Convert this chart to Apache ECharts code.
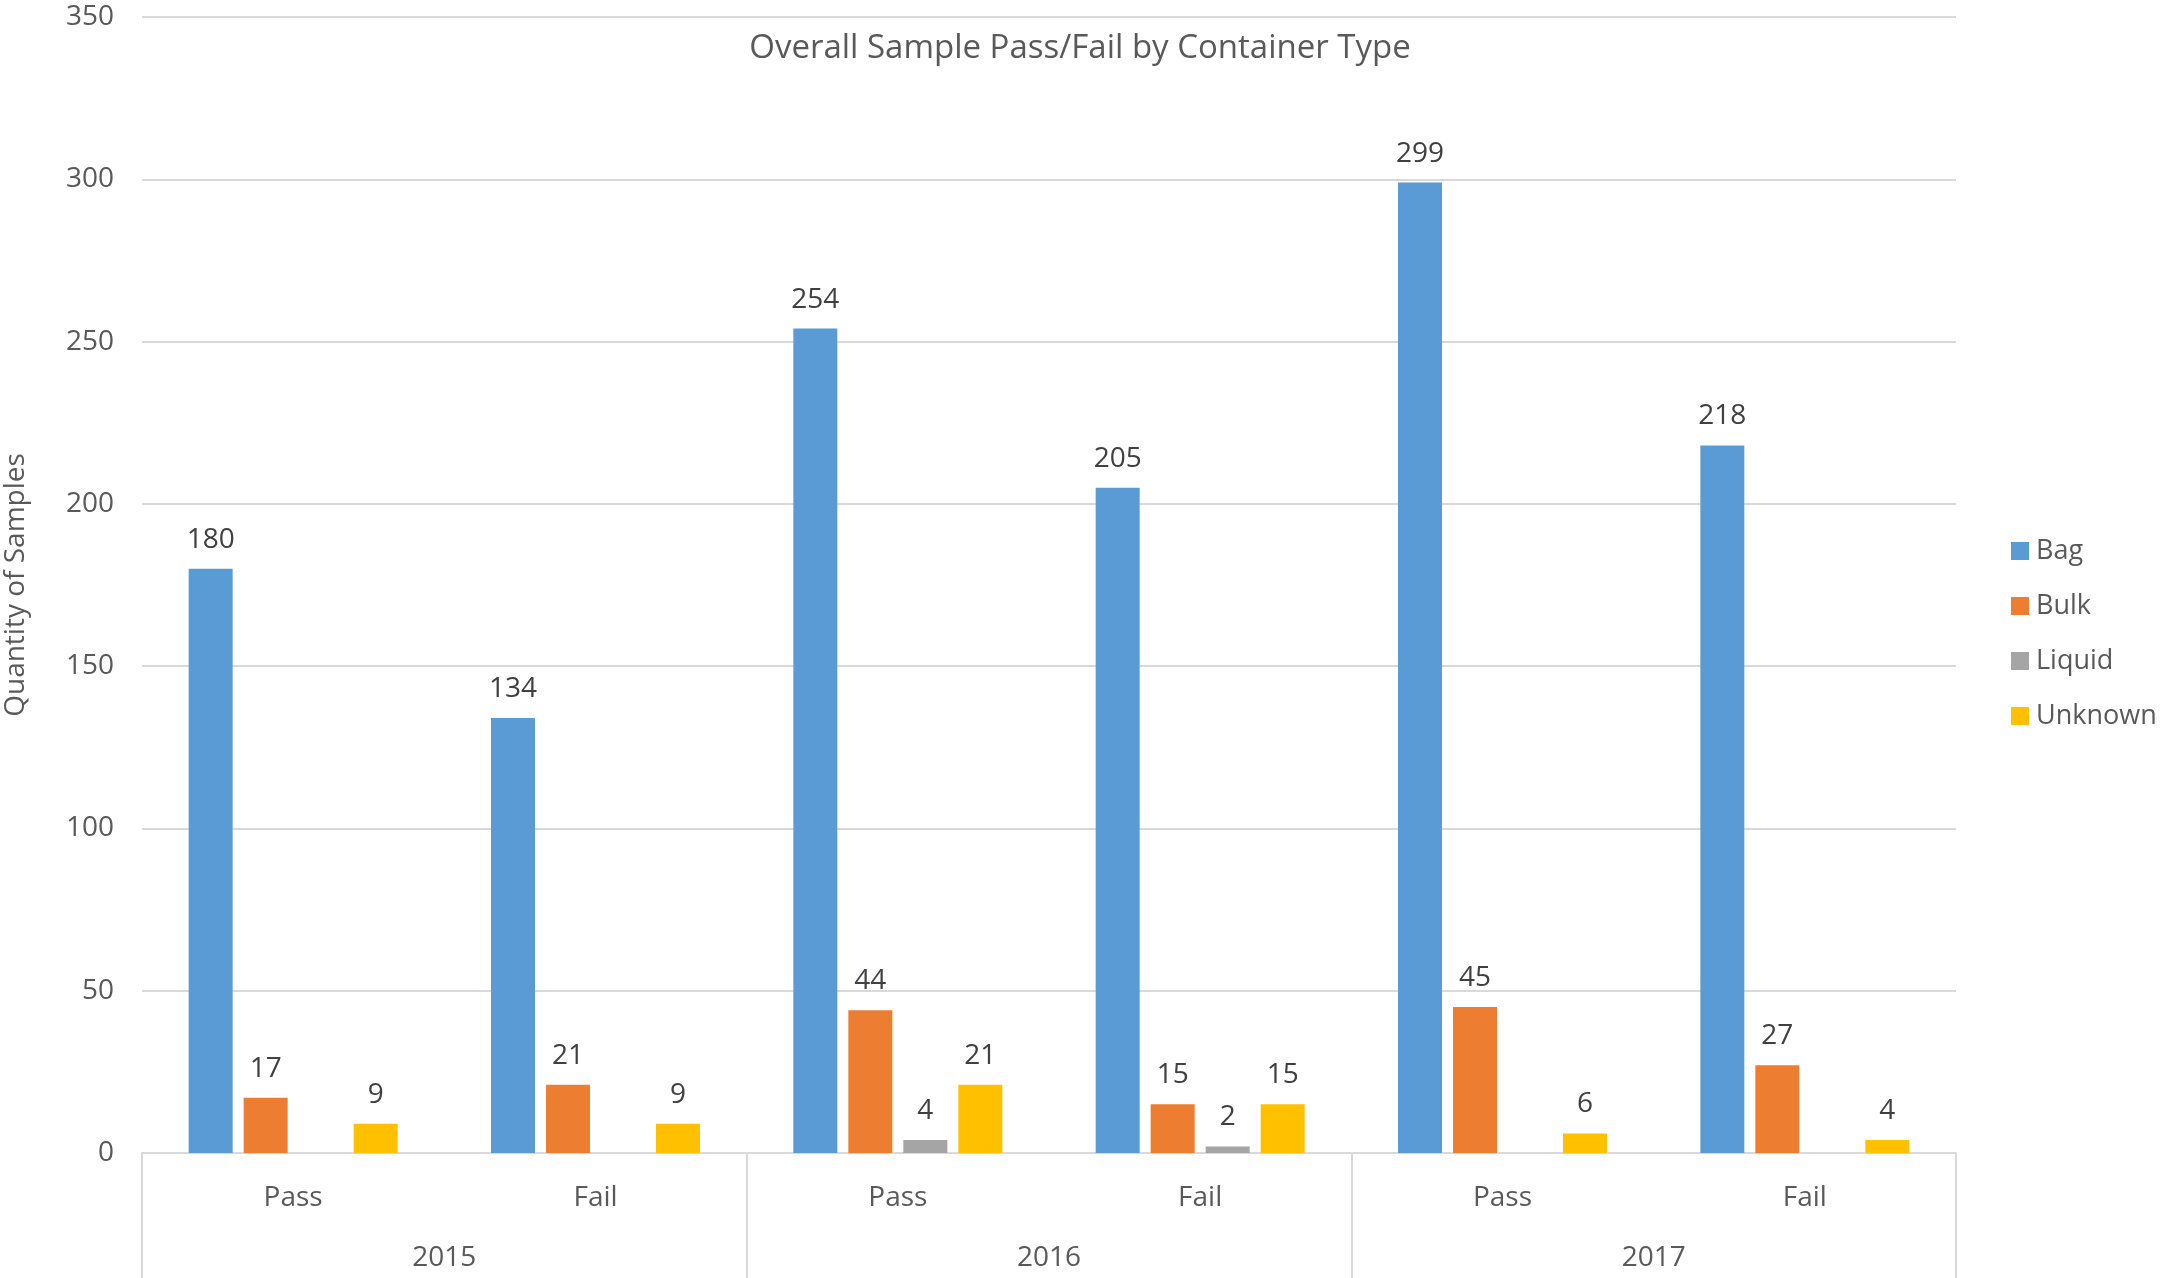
<!DOCTYPE html>
<html>
<head>
<meta charset="utf-8">
<script src="https://cdn.jsdelivr.net/npm/echarts@6/dist/echarts.min.js"></script>
<style>
  html, body { margin: 0; padding: 0; background: #fff; }
  #main { width: 2166px; height: 1278px; }
</style>
</head>
<body>
<div id="main"></div>
<script>
let myChart = echarts.init(document.getElementById('main'));

// categories
let results = ['Pass', 'Fail', 'Pass', 'Fail', 'Pass', 'Fail'];
let years = ['2015', '2016', '2017'];

// series values (null = no bar in the original)
let bag = [180, 134, 254, 205, 299, 218];
let bulk = [17, 21, 44, 15, 45, 27];
let liquid = [null, null, 4, 2, null, null];
let unknown = [9, 9, 21, 15, 6, 4];

let font = 'Open Sans';
let gridColor = '#D9D9D9';

function barSeries(name, data, color) {
    return {
        name: name,
        type: 'bar',
        xAxisIndex: 0,
        data: data,
        barWidth: 44,
        barGap: '25%',
        itemStyle: { color: color },
        label: {
            show: true,
            position: 'top',
            distance: 15,
            color: '#404040',
            fontFamily: font,
            fontSize: 28
        }
    };
}

let option = {
    animation: false,
    backgroundColor: '#fff',
    title: {
        text: 'Overall Sample Pass/Fail by Container Type',
        left: 1075,
        top: 27,
        textAlign: 'center',
        textStyle: {
            color: '#595959',
            fontFamily: font,
            fontSize: 33,
            fontWeight: 'normal'
        }
    },
    legend: {
        orient: 'vertical',
        left: 2006,
        top: 531,
        itemWidth: 18,
        itemHeight: 18,
        itemGap: 25,
        icon: 'rect',
        data: ['Bag', 'Bulk', 'Liquid', 'Unknown'],
        textStyle: {
            color: '#595959',
            fontFamily: font,
            fontSize: 27,
            lineHeight: 30,
            padding: [0, 0, 0, 2]
        }
    },
    grid: {
        left: 142,
        right: 210,
        top: 17,
        bottom: 125,
        outerBoundsMode: 'none'
    },
    xAxis: [
        {
            type: 'category',
            data: results,
            position: 'bottom',
            axisLine: { show: true, lineStyle: { color: gridColor, width: 2 } },
            axisTick: { show: false },
            axisLabel: {
                margin: 31,
                color: '#595959',
                fontFamily: font,
                fontSize: 28
            }
        },
        {
            type: 'category',
            data: years,
            position: 'bottom',
            axisLine: { show: false },
            axisTick: {
                show: true,
                length: 125,
                lineStyle: { color: gridColor, width: 2 }
            },
            axisLabel: {
                margin: 91,
                color: '#595959',
                fontFamily: font,
                fontSize: 28
            }
        }
    ],
    yAxis: {
        type: 'value',
        min: 0,
        max: 350,
        interval: 50,
        name: 'Quantity of Samples',
        nameLocation: 'middle',
        nameGap: 112,
        nameTextStyle: {
            color: '#595959',
            fontFamily: font,
            fontSize: 28
        },
        axisLine: { show: false },
        axisTick: { show: false },
        splitLine: { lineStyle: { color: gridColor, width: 2 } },
        axisLabel: {
            margin: 28,
            color: '#595959',
            fontFamily: font,
            fontSize: 28
        }
    },
    series: [
        barSeries('Bag', bag, '#5B9BD5'),
        barSeries('Bulk', bulk, '#ED7D31'),
        barSeries('Liquid', liquid, '#A5A5A5'),
        barSeries('Unknown', unknown, '#FFC000')
    ]
};

myChart.setOption(option);
</script>
</body>
</html>
